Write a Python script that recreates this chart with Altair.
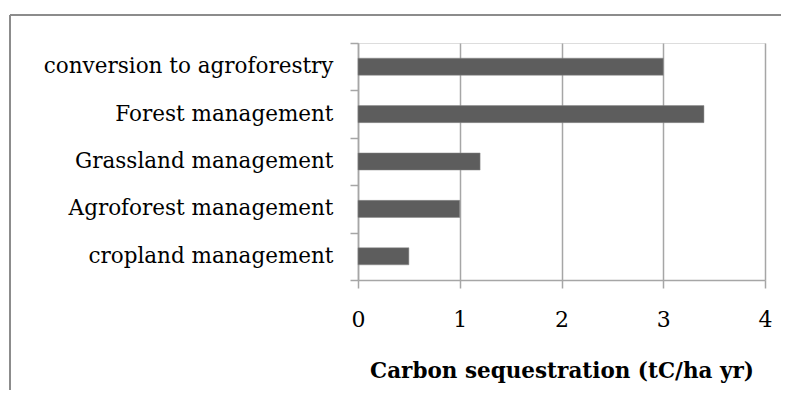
import altair as alt
import pandas as pd

categories = ["conversion to agroforestry", "Forest management", "Grassland management",
              "Agroforest management", "cropland management"]
values = [3.0, 3.4, 1.2, 1.0, 0.5]
x_ticks = [0, 1, 2, 3, 4]

df = pd.DataFrame({"practice": categories, "value": values})

GRID = "#a6a6a6"
SERIF = "DejaVu Serif"

bars = alt.Chart(df).mark_bar(color="#5d5d5d", stroke="#8a8a8a", strokeWidth=0.5,
                              height=alt.RelativeBandSize(0.36)).encode(
    y=alt.Y("practice:N", sort=categories,
            scale=alt.Scale(paddingInner=0, paddingOuter=0),
            axis=alt.Axis(title=None, tickBand="extent", tickSize=8, tickColor=GRID,
                          domainColor=GRID, domainWidth=1.5, tickWidth=1.5,
                          labelFont=SERIF, labelFontSize=21.5, labelColor="#000000",
                          labelPadding=17, labelLimit=400, grid=False)),
    x=alt.X("value:Q", scale=alt.Scale(domain=[0, 4], nice=False),
            axis=alt.Axis(values=x_ticks, title="Carbon sequestration (tC/ha yr)",
                          tickSize=8, tickColor=GRID, tickWidth=1.5,
                          domainColor=GRID, domainWidth=1.5,
                          gridColor=GRID, gridWidth=1.5,
                          labelFont=SERIF, labelFontSize=22, labelColor="#000000",
                          labelPadding=31, labelBaseline="middle", labelFlush=False,
                          titleFont=SERIF, titleFontSize=21.5, titleFontWeight="bold",
                          titleColor="#000000", titlePadding=30)),
)

frame = pd.DataFrame({"a": [0]})
top_line = alt.Chart(frame).mark_rule(color="#8c8c8c", strokeWidth=2, clip=False).encode(
    x=alt.value(-348), x2=alt.value(423), y=alt.value(-28)
)
left_line = alt.Chart(frame).mark_rule(color="#8c8c8c", strokeWidth=2, clip=False).encode(
    x=alt.value(-348), y=alt.value(-28), y2=alt.value(347)
)

chart = alt.layer(top_line, left_line, bars).properties(
    width=407, height=237,
    autosize=alt.AutoSizeParams(type="none"),
    padding={"left": 350, "top": 35, "right": 16, "bottom": 110},
).configure_view(stroke=None).configure(background="white")

chart.save("out.html", embed_options={"renderer": "svg", "actions": False})
